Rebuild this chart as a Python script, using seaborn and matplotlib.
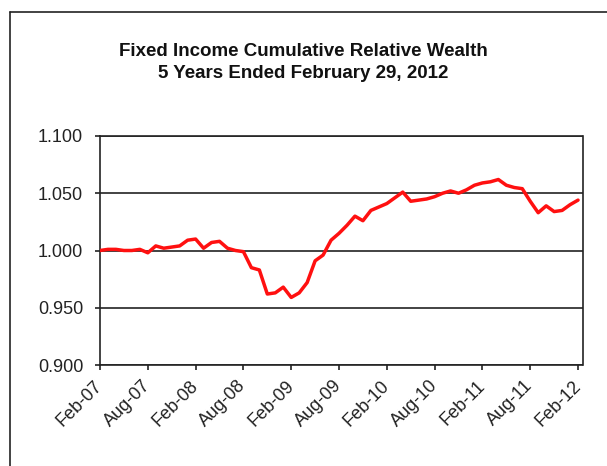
import numpy as np
import pandas as pd
import matplotlib
matplotlib.use("Agg")
import matplotlib.pyplot as plt
from matplotlib.lines import Line2D
import seaborn as sns

# Monthly cumulative relative wealth, Feb-2007 through Feb-2012
month_labels = ["Feb-07", "Aug-07", "Feb-08", "Aug-08", "Feb-09", "Aug-09",
                "Feb-10", "Aug-10", "Feb-11", "Aug-11", "Feb-12"]
wealth = [
    1.000, 1.001, 1.001, 1.000, 1.000, 1.001, 0.998, 1.004, 1.002, 1.003,
    1.004, 1.009, 1.010, 1.002, 1.007, 1.008, 1.002, 1.000, 0.999, 0.985,
    0.983, 0.962, 0.963, 0.968, 0.959, 0.963, 0.972, 0.991, 0.996, 1.009,
    1.015, 1.022, 1.030, 1.026, 1.035, 1.038, 1.041, 1.046, 1.051, 1.043,
    1.044, 1.045, 1.047, 1.050, 1.052, 1.050, 1.053, 1.057, 1.059, 1.060,
    1.062, 1.057, 1.055, 1.054, 1.043, 1.033, 1.039, 1.034, 1.035, 1.040,
    1.044,
]
y_ticks = [0.900, 0.950, 1.000, 1.050, 1.100]

df = pd.DataFrame({"month": np.arange(len(wealth)), "wealth": wealth})

sns.set_theme(style="white")
plt.rcParams["font.family"] = ["Liberation Sans", "DejaVu Sans"]

fig = plt.figure(figsize=(6.07, 4.66), dpi=100)
fig.patch.set_facecolor("white")
ax = fig.add_axes([100 / 607, 101 / 466, 482.5 / 607, 229 / 466])

sns.lineplot(data=df, x="month", y="wealth", ax=ax, color="#ff1010",
             linewidth=2.5, zorder=3)

ax.set_ylim(0.900, 1.100)
ax.set_xlim(0, 60.56)
ax.set_yticks(y_ticks)
ax.set_yticklabels([f"{v:.3f}" for v in y_ticks])
ax.set_xticks(np.arange(0, 61, 6))
ax.set_xticklabels(month_labels, rotation=45, ha="right", va="center",
                   rotation_mode="anchor")
ax.set_xlabel("")
ax.set_ylabel("")

ax.yaxis.grid(True, color="#222222", linewidth=1.2)
ax.xaxis.grid(False)
ax.set_axisbelow(True)
for side in ["left", "bottom", "top", "right"]:
    ax.spines[side].set_color("#222222")
    ax.spines[side].set_linewidth(1.2)
ax.tick_params(axis="both", direction="out", length=3.6, width=1.2,
               color="#222222", labelsize=13, labelcolor="#222222",
               left=True, bottom=True)
ax.tick_params(axis="x", pad=9.5)
ax.tick_params(axis="y", pad=8.5)

# Title block
fig.text(303 / 607, 1 - 51 / 466, "Fixed Income Cumulative Relative Wealth",
         ha="center", va="center", fontsize=13.5, fontweight="bold",
         color="#111111")
fig.text(303 / 607, 1 - 74 / 466, "5 Years Ended February 29, 2012",
         ha="center", va="center", fontsize=13.5, fontweight="bold",
         color="#111111")

# Outer chart-area frame
x0, y0 = 10 / 607, 1 - 12 / 466
fig.add_artist(Line2D([x0, x0], [0, y0], color="#222222", linewidth=1.2,
                      transform=fig.transFigure))
fig.add_artist(Line2D([x0, 1], [y0, y0], color="#222222", linewidth=1.2,
                      transform=fig.transFigure))

fig.savefig("out.png", dpi=100)
